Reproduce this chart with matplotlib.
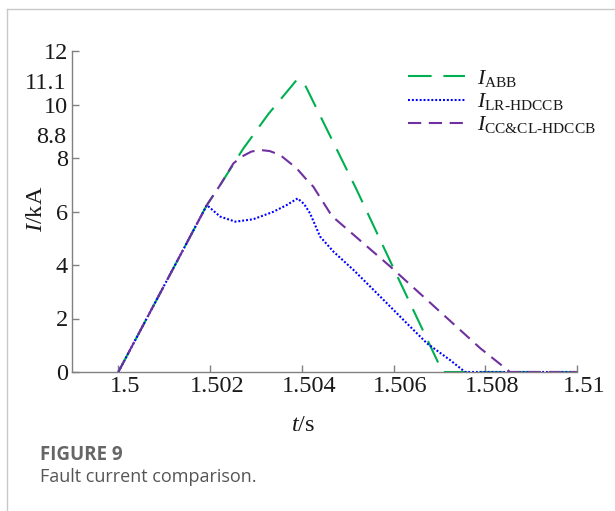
import matplotlib
matplotlib.use("Agg")
import matplotlib.pyplot as plt
import matplotlib.transforms as mtransforms
from matplotlib.lines import Line2D

# ---- data ----
t_abb = [1.5, 1.50193, 1.50222, 1.50272, 1.50327, 1.50389, 1.50405, 1.50518, 1.50600, 1.50707, 1.51]
i_abb = [0.0, 6.24, 6.99, 8.34, 9.64, 10.92, 10.80, 6.87, 3.88, 0.0, 0.0]

t_lr = [1.5, 1.50193, 1.50222, 1.50255, 1.50294, 1.50338, 1.50367, 1.50391, 1.50405, 1.50418,
        1.50440, 1.50469, 1.50513, 1.50571, 1.50629, 1.50673, 1.50723, 1.50756, 1.51]
i_lr = [0.0, 6.24, 5.81, 5.62, 5.71, 5.99, 6.24, 6.49, 6.28, 5.93,
        5.06, 4.50, 3.81, 2.82, 1.82, 1.07, 0.45, 0.0, 0.0]

t_cc = [1.5, 1.50193, 1.50222, 1.50251, 1.50269, 1.50290, 1.50309, 1.50330, 1.50353, 1.50389,
        1.50411, 1.50425, 1.50462, 1.50469, 1.50593, 1.50789, 1.50854, 1.51]
i_cc = [0.0, 6.24, 6.99, 7.80, 8.05, 8.24, 8.30, 8.26, 8.11, 7.61,
        7.18, 6.93, 5.93, 5.78, 3.94, 0.89, 0.0, 0.0]

x_ticks = [1.5, 1.502, 1.504, 1.506, 1.508, 1.51]
x_ticklabels = ["1.5", "1.502", "1.504", "1.506", "1.508", "1.51"]
y_ticks = [0, 2, 4, 6, 8, 10, 12]
extra_y_labels = [(10.8, "11.1"), (8.75, "8.8")]

labels = ["$I_{\\mathrm{ABB}}$",
          "$I_{\\mathrm{LR\u2010HDCCB}}$",
          "$I_{\\mathrm{CC&CL\u2010HDCCB}}$"]

# ---- style ----
plt.rcParams["mathtext.fontset"] = "custom"
plt.rcParams["mathtext.rm"] = "Liberation Serif"
plt.rcParams["mathtext.it"] = "Liberation Serif:italic"
plt.rcParams["font.family"] = ["Liberation Serif", "DejaVu Serif"]
plt.rcParams["lines.scale_dashes"] = False

W, H = 615, 511
fig = plt.figure(figsize=(W / 100, H / 100), dpi=100)

ax_l, ax_r, ax_b, ax_t = 72, 577, 372, 51
ax = fig.add_axes([ax_l / W, 1 - ax_b / H, (ax_r - ax_l) / W, (ax_b - ax_t) / H])

green = "#00B050"
blue = "#0000FF"
purple = "#7030A0"
lw = 1.5

ax.plot(t_abb, i_abb, color=green, lw=lw, dashes=(17, 8.5), label=labels[0])
ax.plot(t_lr, i_lr, color=blue, lw=lw, dashes=(1.4, 1.4), label=labels[1])
ax.plot(t_cc, i_cc, color=purple, lw=lw, dashes=(9.5, 5.5), label=labels[2])

ax.set_xlim(1.49899, 1.51)
ax.set_ylim(0, 12)

for s in ["top", "right"]:
    ax.spines[s].set_visible(False)
spine_c = "#808080"
for s in ["left", "bottom"]:
    ax.spines[s].set_color(spine_c)
    ax.spines[s].set_linewidth(1.0)

ax.set_xticks(x_ticks)
ax.set_xticklabels(x_ticklabels)
ax.set_yticks(y_ticks)
ax.set_yticklabels([str(v) for v in y_ticks])
ax.tick_params(direction="in", length=5, width=1.0, color=spine_c,
               labelsize=17.5, labelcolor="#1a1a1a", pad=3)

offset = mtransforms.ScaledTranslation(7 / 100, 0, fig.dpi_scale_trans)
for lab in ax.get_xticklabels():
    lab.set_transform(lab.get_transform() + offset)

ytr = ax.get_yaxis_transform()
for yv, txt in extra_y_labels:
    ax.text(-0.011, yv, txt, transform=ytr, ha="right", va="center",
            fontsize=17.5, color="#1a1a1a")

fig.text(303 / W, 1 - 425 / H, r"$t$/s", ha="center", va="center", fontsize=17.5, color="#1a1a1a")
fig.text(36 / W, 1 - 209 / H, r"$I$/kA", ha="center", va="center", fontsize=17.5,
         rotation=90, color="#1a1a1a")

leg = fig.legend(loc="upper left", bbox_to_anchor=(408 / W, 1 - 68 / H), frameon=False,
                 fontsize=15.8, handlelength=2.6, handletextpad=0.55, labelspacing=0.1,
                 borderpad=0, borderaxespad=0)
for t in leg.get_texts():
    t.set_color("#1a1a1a")

# frame lines of the figure panel
fig.add_artist(Line2D([7 / W, 1], [1 - 9.5 / H, 1 - 9.5 / H], transform=fig.transFigure,
                      color="#c8c8c8", lw=1.0))
fig.add_artist(Line2D([7 / W, 7 / W], [0, 1 - 9.5 / H], transform=fig.transFigure,
                      color="#c8c8c8", lw=1.0))

fig.text(40 / W, 1 - 455 / H, "FIGURE 9", fontfamily=["Open Sans", "DejaVu Sans"],
         fontweight="bold", fontsize=13.5, color="#666666", ha="left", va="center")
fig.text(40 / W, 1 - 477 / H, "Fault current comparison.", fontfamily=["Open Sans", "DejaVu Sans"],
         fontsize=13, color="#555555", ha="left", va="center")

fig.savefig("out.png", dpi=100)
